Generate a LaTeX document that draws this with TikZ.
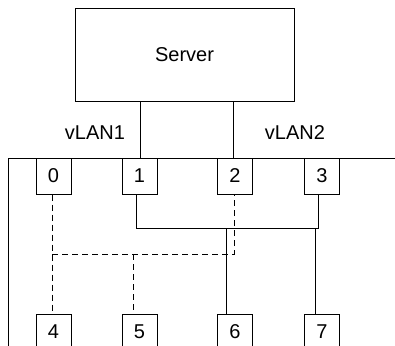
\documentclass[tikz,border=0pt]{standalone}
\usepackage{fontspec}
\setmainfont{Liberation Sans}
\usepackage{tikz}
\usetikzlibrary{positioning}
\tikzstyle{port} = [rectangle, draw, minimum width=35pt, minimum height=36pt,
  inner sep=0pt, text centered]
\tikzstyle{vlan} = [line width=1pt]
\tikzstyle{trunk} = [line width=1pt, dash pattern=on 6pt off 4pt]

\begin{document}
\begin{tikzpicture}[x=1pt, y=-1pt, line width=1pt,
      every node/.style={font=\fontsize{20}{24}\selectfont}]
    \useasboundingbox (0,0) rectangle (395,345);
    \node[draw, minimum width=219pt, minimum height=92pt] (server) at (184.5,55) {Server};
    % bus
    \coordinate (busl) at (8,350);
    \coordinate (busc) at (8,158);
    \coordinate (busr) at (396,158);
    \draw (busl) -- (busc) -- (busr);
    \coordinate (up1) at (140,158);
    \coordinate (up2) at (233,158);
    \draw (server.south -| up1) -- (up1);
    \draw (server.south -| up2) -- (up2);
    \node[anchor=base] (l1) at (95,139) {vLAN1};
    \node[anchor=base] (l2) at (295,139) {vLAN2};
    % ports
    \node[port] (p0) at (53.5,176) {0};
    \node[port] (p1) at (139.5,176) {1};
    \node[port] (p2) at (235,176) {2};
    \node[port] (p3) at (322,176) {3};
    \node[port] (p4) at (53.5,332) {4};
    \node[port] (p5) at (139.5,332) {5};
    \node[port] (p6) at (235,332) {6};
    \node[port] (p7) at (322,332) {7};
    % solid links
    \coordinate (s1) at (136,228);
    \coordinate (s3) at (318,228);
    \coordinate (s6) at (226,228);
    \coordinate (s7) at (315,228);
    \draw[vlan] ([xshift=-3.5pt]p1.south) -- (s1) -- (s3) -- ([xshift=-4pt]p3.south);
    \draw[vlan] (s6) -- ([xshift=-9pt]p6.north);
    \draw[vlan] (s7) -- ([xshift=-7pt]p7.north);
    % dashed links
    \coordinate (d0) at (52,254);
    \coordinate (d2) at (234,254);
    \coordinate (d5) at (133,254);
    \draw[trunk] ([xshift=-1.5pt]p0.south) -- ([xshift=-1.5pt]p4.north);
    \draw[trunk] (d0) -- (d2) -- ([xshift=-1pt]p2.south);
    \draw[trunk] (d5) -- ([xshift=-6.5pt]p5.north);
  \end{tikzpicture}
\end{document}
